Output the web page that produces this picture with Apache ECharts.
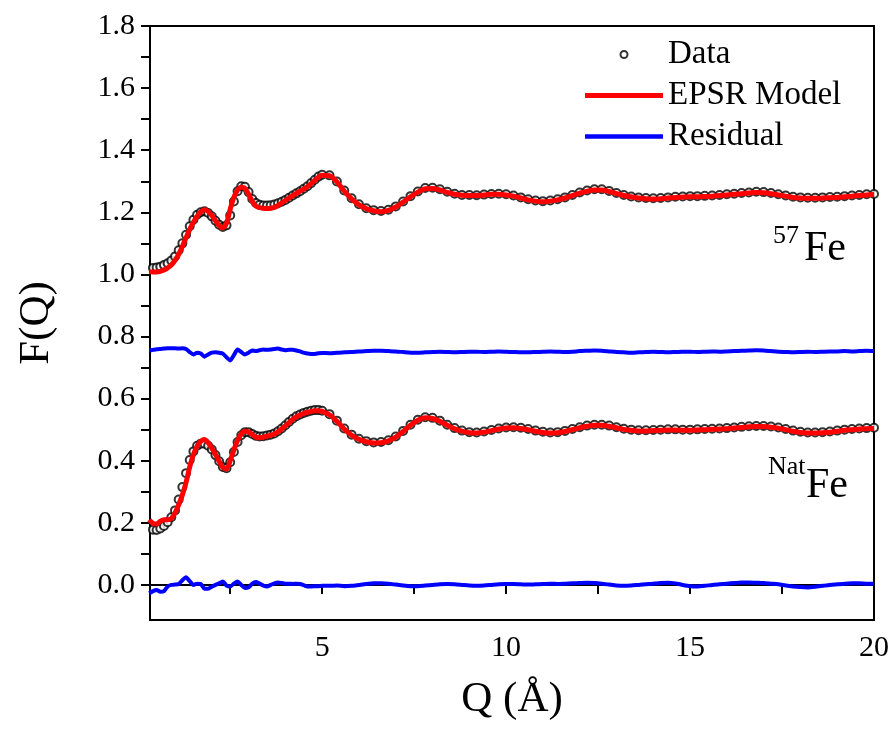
<!DOCTYPE html>
<html>
<head>
<meta charset="utf-8">
<script src="https://cdn.jsdelivr.net/npm/echarts@6/dist/echarts.min.js"></script>
<style>
html,body{margin:0;padding:0;background:#fff;}
#chart{width:896px;height:733px;}
</style>
</head>
<body>
<div id="chart"></div>
<script>
// Q grid (Å^-1)
const qGrid = [0.3,0.4,0.5,0.6,0.7,0.8,0.9,1.0,1.1,1.2,
1.3,1.4,1.5,1.6,1.7,1.8,1.9,2.0,2.1,2.2,
2.3,2.4,2.5,2.6,2.7,2.8,2.9,3.0,3.1,3.2,
3.3,3.4,3.5,3.6,3.7,3.8,3.9,4.0,4.1,4.2,
4.3,4.4,4.5,4.6,4.7,4.8,4.9,5.0,
5.2,5.4,5.6,5.8,6.0,6.2,6.4,6.6,6.8,7.0,
7.2,7.4,7.6,7.8,8.0,8.2,8.4,8.6,8.8,9.0,
9.2,9.4,9.6,9.8,10.0,10.2,10.4,10.6,10.8,11.0,
11.2,11.4,11.6,11.8,12.0,12.2,12.4,12.6,12.8,13.0,
13.2,13.4,13.6,13.8,14.0,14.2,14.4,14.6,14.8,15.0,
15.2,15.4,15.6,15.8,16.0,16.2,16.4,16.6,16.8,17.0,
17.2,17.4,17.6,17.8,18.0,18.2,18.4,18.6,18.8,19.0,
19.2,19.4,19.6,19.8,20.0];

// 57Fe
const dataUpper = [1.020,1.021,1.022,1.025,1.030,1.036,1.045,1.058,1.078,1.100,
1.128,1.155,1.176,1.192,1.200,1.203,1.198,1.187,1.173,1.160,
1.153,1.158,1.190,1.235,1.268,1.284,1.282,1.265,1.243,1.230,
1.224,1.222,1.222,1.223,1.225,1.229,1.234,1.240,1.247,1.254,
1.261,1.268,1.276,1.284,1.294,1.305,1.315,1.321,
1.319,1.299,1.270,1.245,1.226,1.213,1.207,1.204,1.208,1.219,
1.235,1.252,1.267,1.278,1.279,1.274,1.266,1.260,1.256,1.256,
1.255,1.257,1.259,1.260,1.258,1.254,1.248,1.242,1.238,1.236,
1.238,1.242,1.248,1.256,1.264,1.270,1.274,1.274,1.269,1.262,
1.256,1.251,1.248,1.246,1.245,1.246,1.248,1.250,1.251,1.252,
1.252,1.253,1.254,1.256,1.258,1.260,1.262,1.264,1.266,1.265,
1.262,1.258,1.254,1.250,1.248,1.247,1.247,1.248,1.249,1.250,
1.252,1.254,1.256,1.258,1.259];
const modelUpper = [1.009,1.008,1.008,1.010,1.014,1.021,1.030,1.045,1.065,1.090,
1.118,1.145,1.168,1.187,1.201,1.208,1.203,1.190,1.173,1.157,
1.150,1.165,1.210,1.248,1.272,1.281,1.277,1.258,1.235,1.220,
1.215,1.213,1.212,1.213,1.216,1.222,1.230,1.238,1.246,1.254,
1.261,1.268,1.275,1.282,1.292,1.303,1.313,1.319,
1.318,1.298,1.268,1.243,1.224,1.212,1.205,1.202,1.206,1.217,
1.233,1.250,1.265,1.276,1.277,1.272,1.264,1.258,1.255,1.254,
1.254,1.256,1.258,1.258,1.256,1.252,1.246,1.240,1.236,1.234,
1.236,1.240,1.246,1.254,1.262,1.268,1.272,1.272,1.267,1.260,
1.254,1.250,1.246,1.244,1.243,1.244,1.246,1.248,1.249,1.250,
1.250,1.251,1.252,1.254,1.256,1.258,1.260,1.262,1.264,1.263,
1.260,1.256,1.252,1.248,1.246,1.245,1.245,1.246,1.247,1.248,
1.250,1.252,1.254,1.256,1.257];
const residualUpper = [0.755,0.757,0.759,0.760,0.761,0.762,0.762,0.762,0.761,0.762,
0.760,0.750,0.742,0.748,0.745,0.735,0.742,0.748,0.749,0.748,
0.745,0.733,0.723,0.740,0.758,0.750,0.742,0.748,0.755,0.753,
0.756,0.758,0.757,0.758,0.760,0.761,0.758,0.756,0.757,0.757,
0.755,0.752,0.748,0.745,0.744,0.744,0.746,0.747,
0.746,0.748,0.749,0.750,0.752,0.753,0.754,0.754,0.753,0.752,
0.750,0.748,0.748,0.749,0.750,0.751,0.750,0.749,0.750,0.751,
0.751,0.750,0.751,0.752,0.751,0.750,0.749,0.749,0.750,0.751,
0.752,0.751,0.750,0.751,0.753,0.754,0.755,0.754,0.752,0.750,
0.749,0.748,0.749,0.750,0.751,0.750,0.749,0.750,0.751,0.751,
0.750,0.751,0.752,0.751,0.752,0.753,0.754,0.755,0.756,0.755,
0.753,0.751,0.750,0.749,0.750,0.751,0.750,0.751,0.752,0.752,
0.753,0.752,0.753,0.754,0.753];

// NatFe
const dataLower = [0.183,0.178,0.177,0.182,0.190,0.202,0.218,0.240,0.275,0.315,
0.360,0.402,0.430,0.448,0.455,0.455,0.448,0.436,0.418,0.398,
0.380,0.376,0.395,0.428,0.460,0.482,0.492,0.492,0.486,0.480,
0.478,0.479,0.481,0.484,0.488,0.495,0.504,0.514,0.525,0.535,
0.543,0.549,0.554,0.558,0.561,0.563,0.563,0.561,
0.550,0.529,0.504,0.484,0.471,0.463,0.459,0.460,0.466,0.478,
0.496,0.516,0.532,0.540,0.538,0.529,0.516,0.505,0.497,0.492,
0.491,0.494,0.499,0.504,0.507,0.508,0.506,0.502,0.497,0.493,
0.491,0.492,0.496,0.502,0.508,0.513,0.516,0.516,0.513,0.508,
0.503,0.500,0.498,0.498,0.499,0.500,0.501,0.501,0.500,0.500,
0.501,0.502,0.503,0.504,0.505,0.507,0.509,0.511,0.512,0.512,
0.510,0.507,0.502,0.497,0.493,0.491,0.491,0.492,0.494,0.497,
0.500,0.502,0.504,0.505,0.506];
const modelLower = [0.210,0.198,0.196,0.205,0.210,0.210,0.214,0.232,0.258,0.290,
0.330,0.380,0.420,0.447,0.462,0.468,0.458,0.440,0.420,0.398,
0.378,0.373,0.400,0.435,0.465,0.486,0.495,0.493,0.484,0.476,
0.474,0.476,0.479,0.482,0.486,0.493,0.502,0.512,0.523,0.533,
0.541,0.547,0.552,0.556,0.559,0.561,0.561,0.559,
0.548,0.527,0.502,0.482,0.469,0.461,0.457,0.458,0.464,0.476,
0.494,0.514,0.530,0.538,0.536,0.527,0.514,0.503,0.495,0.490,
0.489,0.492,0.497,0.502,0.505,0.506,0.504,0.500,0.495,0.491,
0.489,0.490,0.494,0.500,0.506,0.511,0.514,0.514,0.511,0.506,
0.501,0.498,0.496,0.496,0.497,0.498,0.499,0.499,0.498,0.498,
0.499,0.500,0.501,0.502,0.503,0.505,0.507,0.509,0.510,0.510,
0.508,0.505,0.500,0.495,0.491,0.489,0.489,0.490,0.492,0.495,
0.498,0.500,0.502,0.503,0.504];
const residualLower = [-0.027,-0.020,-0.016,-0.022,-0.020,-0.005,0.000,0.001,0.003,0.015,
0.025,0.012,0.000,0.004,0.003,-0.012,-0.012,-0.006,0.000,0.005,
0.011,-0.002,-0.005,0.004,0.011,0.000,-0.010,-0.008,0.004,0.009,
0.004,-0.002,-0.005,0.000,0.005,0.008,0.006,0.004,0.004,0.003,
0.004,0.003,-0.001,-0.005,-0.005,-0.004,-0.004,-0.003,
-0.003,-0.002,-0.004,-0.003,0.000,0.003,0.005,0.005,0.004,0.001,
-0.002,-0.004,-0.004,-0.002,0.000,0.002,0.003,0.002,0.000,-0.002,
-0.003,-0.002,0.000,0.002,0.003,0.003,0.002,0.001,0.002,0.003,
0.004,0.003,0.004,0.005,0.006,0.007,0.006,0.004,0.001,-0.002,
-0.003,-0.002,0.000,0.002,0.004,0.006,0.007,0.005,0.000,-0.004,
-0.005,-0.003,0.000,0.002,0.004,0.006,0.008,0.008,0.007,0.006,
0.004,0.002,-0.002,-0.005,-0.007,-0.008,-0.006,-0.003,0.000,0.002,
0.004,0.005,0.005,0.004,0.004];

// Tick values
const xTicks = [2.5,5,7.5,10,12.5,15,17.5,20];
const xLabels = [5,10,15,20];
const yTicks = [0,0.1,0.2,0.3,0.4,0.5,0.6,0.7,0.8,0.9,1.0,1.1,1.2,1.3,1.4,1.5,1.6,1.7,1.8];
const yLabels = [0,0.2,0.4,0.6,0.8,1.0,1.2,1.4,1.6,1.8];

const FONT = '"Liberation Serif", "Times New Roman", serif';
const pair = arr => qGrid.map((q, i) => [q, arr[i]]);

const chart = echarts.init(document.getElementById('chart'), null, {renderer: 'canvas'});

const scatterStyle = {
  type: 'scatter', name: 'Data', symbol: 'emptyCircle', symbolSize: 8,
  itemStyle: {color: '#000', borderColor: '#000', borderWidth: 1},
  z: 2, silent: true
};
const modelStyle = {
  type: 'line', name: 'EPSR Model', symbol: 'none', smooth: 0.3,
  lineStyle: {color: '#ff0000', width: 5}, itemStyle: {color: '#ff0000'},
  z: 3, silent: true
};
const resStyle = {
  type: 'line', name: 'Residual', symbol: 'none', smooth: 0.2,
  lineStyle: {color: '#0000ff', width: 4}, itemStyle: {color: '#0000ff'},
  z: 3, silent: true
};

chart.setOption({
  animation: false,
  backgroundColor: '#fff',
  textStyle: {fontFamily: FONT, color: '#000'},
  grid: {left: 150, right: 22, top: 26, bottom: 113, show: true, borderColor: '#000', borderWidth: 2, backgroundColor: 'transparent'},
  legend: {
    orient: 'vertical', left: 585, top: 38, padding: 0,
    itemWidth: 78, itemHeight: 7, itemGap: 8,
    textStyle: {fontFamily: FONT, fontSize: 33, color: '#000'},
    data: [
      {name: 'Data', icon: 'emptyCircle', itemStyle: {color: '#000', borderColor: '#000', borderWidth: 1.2}},
      {name: 'EPSR Model', icon: 'path://M0 0H78V5H0Z', itemStyle: {color: '#ff0000', borderWidth: 0}},
      {name: 'Residual', icon: 'path://M0 0H78V4.5H0Z', itemStyle: {color: '#0000ff', borderWidth: 0}}
    ]
  },
  xAxis: {
    type: 'value', min: 0.32, max: 20,
    name: 'Q (Å)', nameLocation: 'middle', nameGap: 58,
    nameTextStyle: {fontFamily: FONT, fontSize: 43, color: '#000'},
    axisLine: {lineStyle: {color: '#000', width: 2}},
    axisTick: {show: true, length: 9, lineStyle: {color: '#000', width: 2}, customValues: xTicks},
    axisLabel: {fontFamily: FONT, fontSize: 30, color: '#000', margin: 13, customValues: xLabels},
    splitLine: {show: false}
  },
  yAxis: {
    type: 'value', min: -0.113, max: 1.8,
    name: 'F(Q)', nameLocation: 'middle', nameGap: 92,
    nameTextStyle: {fontFamily: FONT, fontSize: 43, color: '#000'},
    axisLine: {lineStyle: {color: '#000', width: 2}},
    axisTick: {show: true, length: 9, lineStyle: {color: '#000', width: 2}, customValues: yTicks},
    axisLabel: {fontFamily: FONT, fontSize: 30, color: '#000', margin: 15, customValues: yLabels,
      formatter: v => v.toFixed(1)},
    splitLine: {show: false}
  },
  graphic: [
    {type: 'text', x: 773, y: 236, style: {text: '57', fontFamily: FONT, fontSize: 26, fill: '#000', verticalAlign: 'middle'}},
    {type: 'text', x: 804, y: 249, style: {text: 'Fe', fontFamily: FONT, fontSize: 42, fill: '#000', verticalAlign: 'middle'}},
    {type: 'text', x: 768, y: 467, style: {text: 'Nat', fontFamily: FONT, fontSize: 26, fill: '#000', verticalAlign: 'middle'}},
    {type: 'text', x: 806, y: 486, style: {text: 'Fe', fontFamily: FONT, fontSize: 42, fill: '#000', verticalAlign: 'middle'}}
  ],
  series: [
    Object.assign({}, scatterStyle, {data: pair(dataUpper)}),
    Object.assign({}, scatterStyle, {data: pair(dataLower)}),
    Object.assign({}, modelStyle, {data: pair(modelUpper)}),
    Object.assign({}, modelStyle, {data: pair(modelLower)}),
    Object.assign({}, resStyle, {data: pair(residualUpper)}),
    Object.assign({}, resStyle, {data: pair(residualLower)})
  ]
});
</script>
</body>
</html>
